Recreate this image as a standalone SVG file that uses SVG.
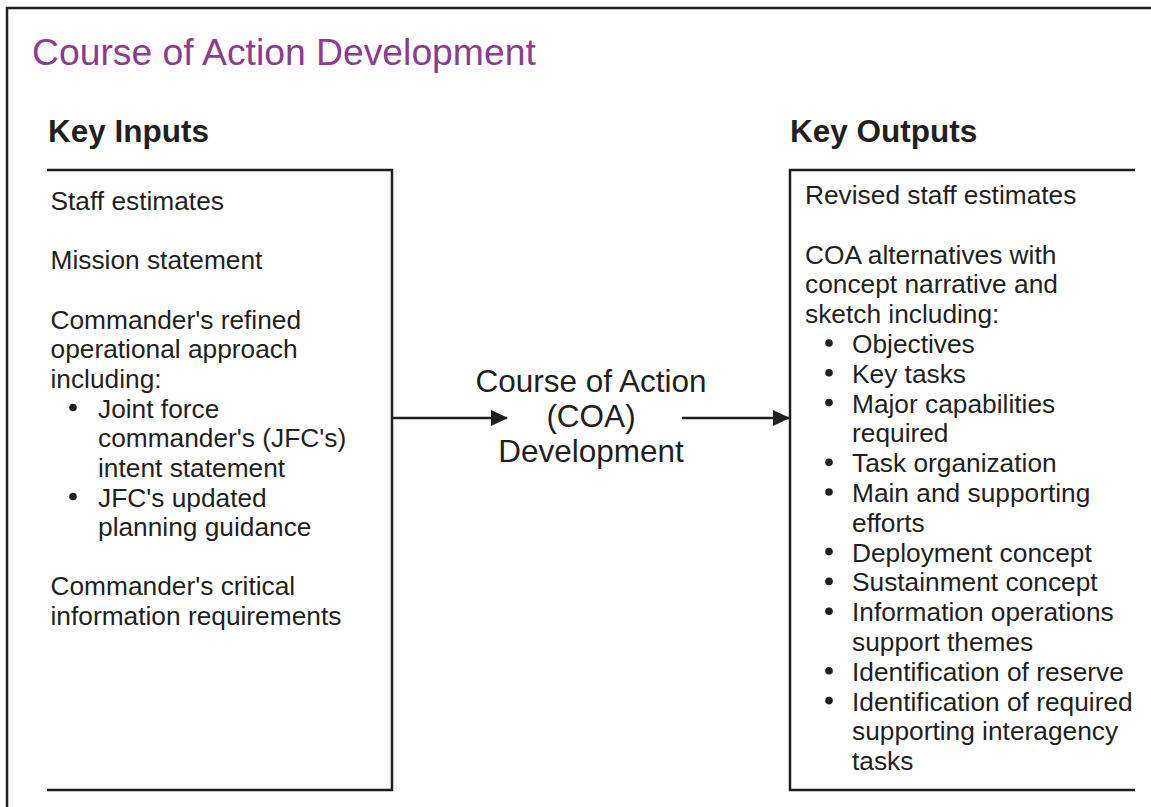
<svg xmlns="http://www.w3.org/2000/svg" width="1151" height="807" viewBox="0 0 1151 807">
<defs>
<style>
.t{font-family:"Liberation Sans",Arial,Helvetica,sans-serif;fill:#231f20;}
.body{font-size:26.3px;}
.head{font-size:31.5px;font-weight:bold;}
.mid{font-size:31.5px;text-anchor:middle;}
.title{font-family:"Liberation Sans",Arial,Helvetica,sans-serif;font-size:37.3px;fill:#8a3c8e;}
.ln{fill:none;stroke:#231f20;stroke-width:2.5;}
.bul{fill:#231f20;}
</style>
<marker id="arr" markerWidth="17" markerHeight="16" refX="16" refY="8" orient="auto" markerUnits="userSpaceOnUse">
<path d="M0,0 L17,8 L0,16 Z" fill="#231f20"/>
</marker>
</defs>
<rect width="1151" height="807" fill="#ffffff"/>
<path class="ln" d="M7,807 V8 H1151"/>
<text class="title" x="32" y="65">Course of Action Development</text>

<g id="inputs">
<text class="t head" x="48" y="142">Key Inputs</text>
<path class="ln" d="M47,170 H392 V790 H47"/>
<g class="t body">
<text x="50.5" y="210">Staff estimates</text>
<text x="50.5" y="269.3">Mission statement</text>
<text x="50.5" y="328.6">Commander's refined</text>
<text x="50.5" y="358.2">operational approach</text>
<text x="50.5" y="387.9">including:</text>
<text x="98" y="417.5">Joint force</text>
<text x="98" y="447.2">commander's (JFC's)</text>
<text x="98" y="476.8">intent statement</text>
<text x="98" y="506.5">JFC's updated</text>
<text x="98" y="536.1">planning guidance</text>
<text x="50.5" y="595.4">Commander's critical</text>
<text x="50.5" y="625">information requirements</text>
</g>
<circle class="bul" cx="73" cy="407.5" r="3.8"/>
<circle class="bul" cx="73" cy="496.5" r="3.8"/>
</g>

<g id="process">
<text class="t mid" x="591" y="392">Course of Action</text>
<text class="t mid" x="591" y="427">(COA)</text>
<text class="t mid" x="591" y="462">Development</text>
</g>

<g id="outputs">
<text class="t head" x="790" y="142">Key Outputs</text>
<path class="ln" d="M1135,170 H790 V790 H1135"/>
<g class="t body">
<text x="805" y="204">Revised staff estimates</text>
<text x="805" y="263.6">COA alternatives with</text>
<text x="805" y="293.4">concept narrative and</text>
<text x="805" y="323.2">sketch including:</text>
<text x="852" y="353">Objectives</text>
<text x="852" y="382.8">Key tasks</text>
<text x="852" y="412.6">Major capabilities</text>
<text x="852" y="442.4">required</text>
<text x="852" y="472.2">Task organization</text>
<text x="852" y="502">Main and supporting</text>
<text x="852" y="531.8">efforts</text>
<text x="852" y="561.6">Deployment concept</text>
<text x="852" y="591.4">Sustainment concept</text>
<text x="852" y="621.2">Information operations</text>
<text x="852" y="651">support themes</text>
<text x="852" y="680.8">Identification of reserve</text>
<text x="852" y="710.6">Identification of required</text>
<text x="852" y="740.4">supporting interagency</text>
<text x="852" y="770.2">tasks</text>
</g>
<g class="bul">
<circle cx="829" cy="343" r="3.8"/>
<circle cx="829" cy="372.8" r="3.8"/>
<circle cx="829" cy="402.6" r="3.8"/>
<circle cx="829" cy="462.2" r="3.8"/>
<circle cx="829" cy="492" r="3.8"/>
<circle cx="829" cy="551.6" r="3.8"/>
<circle cx="829" cy="581.4" r="3.8"/>
<circle cx="829" cy="611.2" r="3.8"/>
<circle cx="829" cy="670.8" r="3.8"/>
<circle cx="829" cy="700.6" r="3.8"/>
</g>
</g>

<g id="connectors">
<line class="ln" x1="392" y1="418" x2="507" y2="418" marker-end="url(#arr)"/>
<line class="ln" x1="682" y1="418" x2="789" y2="418" marker-end="url(#arr)"/>
</g>
</svg>
